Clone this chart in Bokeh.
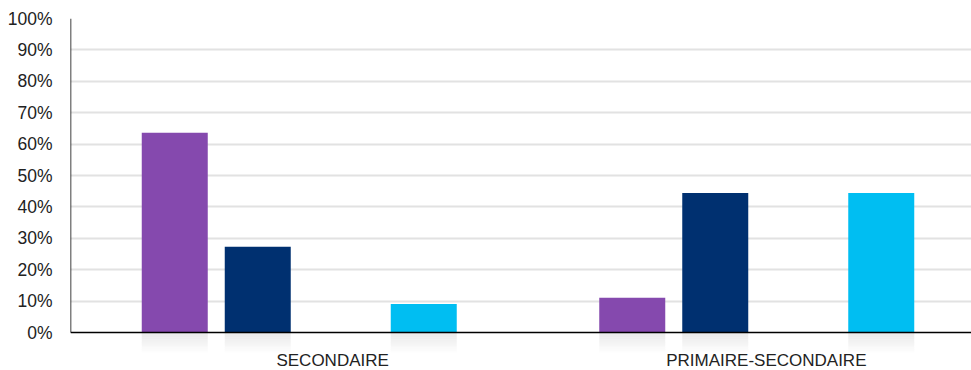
from bokeh.plotting import figure
from bokeh.models import FixedTicker, Range1d, Span
from bokeh.core.properties import value
from bokeh.embed import file_html
from bokeh.resources import INLINE

categories = ["SECONDAIRE", "PRIMAIRE-SECONDAIRE"]
series_a = [63.6, 11.1]   # purple
series_b = [27.3, 44.4]   # navy
series_c = [0.0, 0.0]     # (empty)
series_d = [9.1, 44.4]    # cyan
colors = ["#8549AE", "#003070", "#BDBDBD", "#00BEF2"]
y_ticks = [0, 10, 20, 30, 40, 50, 60, 70, 80, 90, 100]

FONT = "Liberation Sans"
x_start, x_end = 0.0, 901 / 457.5
y_start, y_end = -12.1, 100.0

p = figure(width=971, height=370, output_backend="svg", toolbar_location=None,
           x_range=Range1d(x_start, x_end), y_range=Range1d(y_start, y_end),
           min_border_left=70, min_border_right=0, min_border_top=18, min_border_bottom=0)
p.outline_line_color = None
p.background_fill_color = "white"
p.xaxis.visible = False
p.xgrid.visible = False

# y axis
p.yaxis.ticker = FixedTicker(ticks=y_ticks)
p.yaxis.major_label_overrides = {t: f"{t}%" for t in y_ticks}
p.yaxis.axis_line_color = None
p.yaxis.major_tick_line_color = None
p.yaxis.minor_tick_line_color = None
p.yaxis.major_label_standoff = 12
p.yaxis.major_label_text_font = FONT
p.yaxis.major_label_text_font_size = "17.5px"
p.yaxis.major_label_text_color = "#222222"
p.ygrid.ticker = FixedTicker(ticks=y_ticks[1:])
p.ygrid.grid_line_color = "#E2E2E2"
p.ygrid.grid_line_width = 2

slot = 83 / 457.5
bar_w = 66 / 457.5
all_series = [series_a, series_b, series_c, series_d]
refl_depth = 6.4
steps = 12
for si, (vals, col) in enumerate(zip(all_series, colors)):
    off = (si - 1.5) * slot
    xs = [i + 0.5 + off for i in range(len(categories))]
    xs_nz = [x for x, v in zip(xs, vals) if v > 0]
    vals_nz = [v for v in vals if v > 0]
    if not xs_nz:
        continue
    # reflection gradient below the axis
    for k in range(steps):
        top = -refl_depth * k / steps
        bot = -refl_depth * (k + 1) / steps
        alpha = 0.55 * (1 - k / steps)
        p.quad(left=[x - bar_w / 2 for x in xs_nz], right=[x + bar_w / 2 for x in xs_nz],
               top=top, bottom=bot, fill_color="#D8D8D8", fill_alpha=alpha, line_color=None)
    p.vbar(x=xs_nz, top=vals_nz, bottom=0, width=bar_w, fill_color=col, line_color=None)

# axis lines
p.segment(x0=[x_start], y0=[0], x1=[x_start], y1=[100], line_color="black", line_width=1.5)
p.add_layout(Span(location=0, dimension="width", line_color="black", line_width=1.5))

# category labels
label_x = [0.573, 1.521]
p.text(x=label_x, y=[-8.9] * len(categories), text=categories,
       text_font=value(FONT), text_font_size="17px", text_color="#222222",
       text_align="center", text_baseline="middle")

open("out.html", "w").write(file_html(p, INLINE))
